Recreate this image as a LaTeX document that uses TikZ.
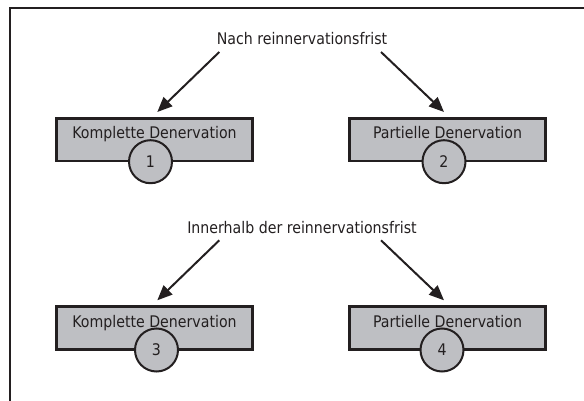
\documentclass[tikz,border=0pt]{standalone}
\usepackage{fontspec}
\setmainfont{DejaVu Sans}[FakeStretch=0.885]
\usetikzlibrary{arrows.meta}
\definecolor{ink}{RGB}{35,31,32}
\definecolor{boxgray}{RGB}{190,191,195}
\tikzset{
  frameline/.style={draw=ink, line width=2.6pt},
  lbl/.style={inner sep=0pt, text=ink, font=\fontsize{16}{18}\selectfont},
  dbox/.style={draw=ink, fill=boxgray, line width=2.7pt, minimum width=195.6pt,
    inner xsep=0pt, inner ysep=0pt, text height=20.5pt, text depth=22.2pt,
    text=ink, font=\fontsize{16}{18}\selectfont},
  numc/.style={circle, draw=ink, fill=boxgray, line width=2pt, minimum size=43pt,
    inner sep=0pt, text=ink, font=\fontsize{16}{18}\selectfont},
  arr/.style={draw=ink, line width=2pt, -{Triangle[length=15pt,width=12.5pt]}}
}
\begin{document}
\begin{tikzpicture}[x=1pt,y=-1pt]
\useasboundingbox (0,0) rectangle (584,401);
\draw[frameline] (584,8) -- (10,8) -- (10,401);

\node[lbl] (l1) at (302,39) {Nach reinnervationsfrist};
\node[lbl] (l2) at (302,227.3) {Innerhalb der reinnervationsfrist};

\node[dbox] (b1) at (154.5,139.7) {Komplette Denervation};
\node[dbox] (b2) at (447.5,139.7) {Partielle Denervation};
\node[dbox] (b3) at (154.5,328) {Komplette Denervation};
\node[dbox] (b4) at (447.5,328) {Partielle Denervation};

\node[numc] (c1) at (150.5,161.7) {1};
\node[numc] (c2) at (444,161.7) {2};
\node[numc] (c3) at (156.5,350) {3};
\node[numc] (c4) at (442,350) {4};

\coordinate (s1) at (219.3,52);
\coordinate (s2) at (381,52);
\coordinate (s3) at (219.3,240.3);
\coordinate (s4) at (381,240.3);

\draw[arr] (s1) -- ([shift={(2.8,-5)}]b1.north);
\draw[arr] (s2) -- ([shift={(-3.5,-5)}]b2.north);
\draw[arr] (s3) -- ([shift={(2.8,-5)}]b3.north);
\draw[arr] (s4) -- ([shift={(-3.5,-5)}]b4.north);
\end{tikzpicture}
\end{document}
